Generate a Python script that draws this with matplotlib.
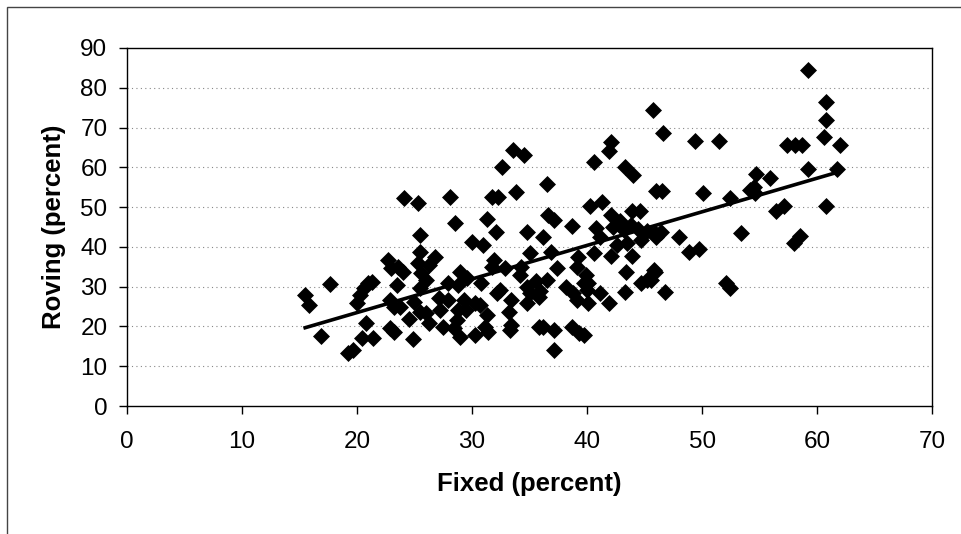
import numpy as np
import matplotlib
matplotlib.use("Agg")
from matplotlib import pyplot as plt
from matplotlib.patches import Rectangle

# fixed (x) and roving (y) percentages
fixed = [15.5, 15.8, 16.9, 17.7, 19.2, 19.7, 20.4, 21.4, 20.8, 20.0, 20.3, 20.6, 21.0, 21.3,
         22.7, 23.0, 23.6, 24.0, 23.5, 22.9, 23.2, 23.7, 22.9, 23.2, 24.5, 24.9, 24.1, 25.3,
         25.5, 25.5, 25.3, 25.6, 26.0, 25.0, 25.5,
         28.1, 31.7, 32.3, 28.5, 31.3, 32.1, 36.6, 37.1, 34.8, 36.2, 30.0, 31.0, 26.8, 26.3,
         31.9, 31.7, 32.9, 34.3, 35.0, 36.9, 37.4, 29.0, 29.6, 27.9, 28.8, 25.5, 30.8, 32.4,
         34.2, 34.8, 35.6, 35.9, 35.8, 33.4, 33.2, 33.4, 34.8, 27.1, 27.9, 27.2, 26.0, 29.3,
         28.8, 29.5, 30.7, 31.3, 31.1, 28.7, 29.0, 28.4, 26.3, 27.5, 30.3, 31.4, 35.8, 36.2,
         37.1, 37.1, 36.5,
         42.1, 41.9, 33.6, 34.5, 32.6, 40.6, 43.3, 44.0, 36.5, 33.8, 40.3, 41.3, 42.1, 43.9,
         44.6, 38.7, 40.8, 41.1, 42.3, 43.2, 42.6, 43.5, 44.7, 46.0, 45.9, 40.6, 42.1, 43.9,
         39.2, 39.1, 39.9, 40.1, 43.4, 45.8, 44.7, 45.2, 38.2, 38.8, 39.1, 39.7, 40.0, 40.1,
         41.1, 41.9, 43.3, 38.7, 39.3, 39.7, 35.0, 32.2, 33.3, 30.3,
         43.8, 44.4, 45.2, 42.9,
         59.2, 60.8, 60.8, 60.6, 62.0, 57.4, 58.1, 58.7, 59.2, 61.7, 45.7, 46.6, 49.4, 51.5,
         54.7, 55.9, 54.5, 54.6, 54.2, 52.4, 50.1, 46.5, 56.4, 57.1, 60.8, 46.4, 46.0, 48.0,
         53.4, 58.5, 58.0, 48.9, 49.7, 45.9, 45.6, 46.8, 52.1, 52.4]

roving = [28.0, 25.5, 17.6, 30.7, 13.2, 14.1, 17.0, 17.0, 20.8, 25.8, 28.0, 29.6, 30.8, 31.2,
          36.7, 34.6, 35.0, 33.7, 30.4, 26.6, 24.9, 24.9, 19.5, 18.7, 21.8, 16.8, 52.3, 51.0,
          43.0, 38.8, 35.9, 33.4, 31.7, 26.2, 23.7,
          52.5, 52.5, 52.5, 45.9, 47.0, 43.8, 48.0, 46.7, 43.8, 42.6, 41.3, 40.5, 37.5, 35.4,
          36.7, 35.0, 34.7, 35.0, 38.4, 38.8, 34.7, 33.7, 32.1, 30.8, 30.4, 29.6, 30.8, 29.1,
          32.9, 30.0, 31.3, 28.8, 27.5, 26.6, 23.7, 20.4, 25.8, 27.1, 26.6, 24.1, 23.3, 26.6,
          24.1, 24.1, 25.4, 22.9, 19.9, 21.6, 17.4, 19.5, 20.8, 19.9, 17.8, 18.7, 19.9, 19.9,
          19.1, 14.1, 31.7,
          66.4, 64.0, 64.3, 63.1, 60.1, 61.3, 60.1, 58.0, 55.9, 53.9, 50.2, 51.2, 48.0, 49.0,
          49.0, 45.2, 44.7, 42.6, 45.0, 44.2, 40.5, 40.9, 41.7, 54.0, 43.4, 38.4, 37.7, 37.7,
          37.5, 35.0, 32.9, 30.8, 33.7, 34.2, 30.8, 31.7, 30.0, 28.3, 26.6, 30.8, 29.1, 25.8,
          28.3, 25.8, 28.7, 19.9, 18.3, 17.8, 28.3, 28.3, 19.1, 25.8,
          45.5, 44.5, 44.0, 46.5,
          84.5, 76.5, 71.8, 67.5, 65.5, 65.5, 65.5, 65.5, 59.5, 59.5, 74.5, 68.5, 66.5, 66.5,
          58.3, 57.2, 55.0, 53.5, 54.2, 52.3, 53.5, 54.0, 49.0, 50.2, 50.2, 43.8, 42.6, 42.5,
          43.6, 42.8, 41.0, 38.7, 39.4, 33.8, 31.7, 28.7, 30.9, 29.7]

x_ticks = [0, 10, 20, 30, 40, 50, 60, 70]
y_ticks = [0, 10, 20, 30, 40, 50, 60, 70, 80, 90]

plt.rcParams["font.family"] = ["Liberation Sans", "DejaVu Sans"]

fig = plt.figure(figsize=(9.61, 5.34), dpi=100)
ax = fig.add_axes([0.132, 0.2397, 0.838, 0.6705])

# outer chart border (left and top visible, rest cut off)
fig.patches.append(Rectangle((7 / 961, -0.1), 1.2, 1.1 - 7 / 534, transform=fig.transFigure,
                             fill=False, edgecolor="#444444", linewidth=1.0))

for yv in y_ticks[1:-1]:
    ax.axhline(yv, color="#888888", linewidth=0.8, linestyle=(0, (1, 3)), zorder=1)

ax.scatter(fixed, roving, marker="D", s=75, color="black", linewidths=0, zorder=3)

# linear trendline
coef = np.polyfit(fixed, roving, 1)
xs = np.array([min(fixed), max(fixed)])
ax.plot(xs, np.polyval(coef, xs), color="black", linewidth=2.6, zorder=4)

ax.set_xlim(0, 70)
ax.set_ylim(0, 90)
ax.set_xticks(x_ticks)
ax.set_yticks(y_ticks)
ax.tick_params(axis="both", labelsize=17.5, direction="out", length=6, width=1, color="black")
ax.tick_params(axis="x", pad=12)
ax.tick_params(axis="y", pad=8)
for sp in ax.spines.values():
    sp.set_color("black")
    sp.set_linewidth(1.0)

ax.set_xlabel("Fixed (percent)", fontsize=18.5, fontweight="bold", labelpad=14)
ax.set_ylabel("Roving (percent)", fontsize=18.5, fontweight="bold", labelpad=10)

fig.savefig("out.png", dpi=100)
